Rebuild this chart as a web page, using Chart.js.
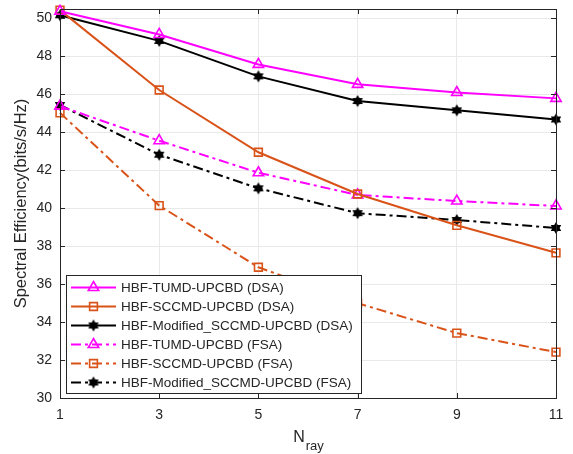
<!DOCTYPE html>
<html>
<head>
<meta charset="utf-8">
<script src="https://cdn.jsdelivr.net/npm/chart.js@4.4.1/dist/chart.umd.min.js"></script>
<style>
  body { margin: 0; background: #fff; }
  canvas { display: block; }
</style>
</head>
<body>
<canvas id="seChart" width="573" height="454"></canvas>
<script>
// Number of rays on the x axis
const nRay = [1, 3, 5, 7, 9, 11];

// Spectral efficiency per scheme (bits/s/Hz)
const tumdDSA = [50.38, 49.16, 47.58, 46.53, 46.10, 45.79];
const sccmdDSA = [50.44, 46.23, 42.95, 40.75, 39.10, 37.65];
const modSccmdDSA = [50.17, 48.82, 46.95, 45.65, 45.16, 44.68];
const tumdFSA = [45.38, 43.56, 41.87, 40.70, 40.38, 40.12];
const sccmdFSA = [45.03, 40.14, 36.89, 35.00, 33.42, 32.42];
const modSccmdFSA = [45.44, 42.82, 41.05, 39.74, 39.38, 38.96];

const seriesNames = [
    'HBF-TUMD-UPCBD (DSA)',
    'HBF-SCCMD-UPCBD (DSA)',
    'HBF-Modified_SCCMD-UPCBD (DSA)',
    'HBF-TUMD-UPCBD (FSA)',
    'HBF-SCCMD-UPCBD (FSA)',
    'HBF-Modified_SCCMD-UPCBD (FSA)'
];

// Tick values
const xTicks = [1, 3, 5, 7, 9, 11];
const yTicks = [30, 32, 34, 36, 38, 40, 42, 44, 46, 48, 50];

const FONT = '"Liberation Sans", Arial, Helvetica, sans-serif';
const TEXT_COLOR = '#262626';
const MAGENTA = '#ff00ff';
const ORANGE = '#d95319';
const BLACK = '#000000';
const DASH_DOT = [10, 4, 3, 4];

// Filled six-pointed star used as marker for the Modified_SCCMD curves
function makeHexagram(r) {
    const size = Math.ceil(r * 2 + 2);
    const c = document.createElement('canvas');
    c.width = size;
    c.height = size;
    const g = c.getContext('2d');
    const cx = size / 2, cy = size / 2;
    g.beginPath();
    for (let i = 0; i < 12; i++) {
        const rad = (i % 2 === 0) ? r : r * 0.6;
        const a = -Math.PI / 2 + i * Math.PI / 6;
        const px = cx + rad * Math.cos(a);
        const py = cy + rad * Math.sin(a);
        if (i === 0) g.moveTo(px, py); else g.lineTo(px, py);
    }
    g.closePath();
    g.fillStyle = BLACK;
    g.fill();
    return c;
}
const hexagram = makeHexagram(6);

function toPoints(values) {
    return values.map((v, i) => ({ x: nRay[i], y: v }));
}

function makeDataset(label, values, color, dash, style) {
    const isImage = style instanceof HTMLCanvasElement;
    return {
        label: label,
        data: toPoints(values),
        borderColor: color,
        backgroundColor: color,
        borderWidth: 2,
        borderDash: dash,
        pointStyle: style,
        pointRadius: style === 'triangle' ? 6 : 5.5,
        pointBorderWidth: 1.6,
        pointBorderColor: color,
        pointBackgroundColor: isImage ? color : 'rgba(0,0,0,0)',
        tension: 0,
        fill: false,
        clip: false
    };
}

const datasets = [
    makeDataset(seriesNames[0], tumdDSA, MAGENTA, [], 'triangle'),
    makeDataset(seriesNames[1], sccmdDSA, ORANGE, [], 'rect'),
    makeDataset(seriesNames[2], modSccmdDSA, BLACK, [], hexagram),
    makeDataset(seriesNames[3], tumdFSA, MAGENTA, DASH_DOT, 'triangle'),
    makeDataset(seriesNames[4], sccmdFSA, ORANGE, DASH_DOT, 'rect'),
    makeDataset(seriesNames[5], modSccmdFSA, BLACK, DASH_DOT, hexagram)
];

// Box around the axes with inward tick marks, axis titles and the legend
const matlabFrame = {
    id: 'matlabFrame',
    afterDraw(chart) {
        const ctx = chart.ctx;
        const area = chart.chartArea;
        const xs = chart.scales.x;
        const ys = chart.scales.y;
        const tick = 5;

        ctx.save();
        ctx.strokeStyle = TEXT_COLOR;
        ctx.lineWidth = 1;
        ctx.setLineDash([]);
        ctx.strokeRect(area.left + 0.5, area.top + 0.5, area.right - area.left, area.bottom - area.top);
        ctx.beginPath();
        xTicks.forEach(v => {
            const px = Math.round(xs.getPixelForValue(v)) + 0.5;
            ctx.moveTo(px, area.bottom);
            ctx.lineTo(px, area.bottom - tick);
            ctx.moveTo(px, area.top);
            ctx.lineTo(px, area.top + tick);
        });
        yTicks.forEach(v => {
            const py = Math.round(ys.getPixelForValue(v)) + 0.5;
            ctx.moveTo(area.left, py);
            ctx.lineTo(area.left + tick, py);
            ctx.moveTo(area.right, py);
            ctx.lineTo(area.right - tick, py);
        });
        ctx.stroke();

        // y axis title
        ctx.fillStyle = TEXT_COLOR;
        ctx.font = '16.5px ' + FONT;
        ctx.textAlign = 'center';
        ctx.textBaseline = 'middle';
        ctx.save();
        ctx.translate(21, (area.top + area.bottom) / 2);
        ctx.rotate(-Math.PI / 2);
        ctx.fillText('Spectral Efficiency(bits/s/Hz)', 0, 0);
        ctx.restore();

        // x axis title: N with subscript "ray"
        ctx.textAlign = 'left';
        ctx.textBaseline = 'alphabetic';
        ctx.font = '16px ' + FONT;
        const nWidth = ctx.measureText('N').width;
        ctx.font = '13px ' + FONT;
        const subWidth = ctx.measureText('ray').width;
        const startX = (area.left + area.right) / 2 - (nWidth + subWidth) / 2;
        ctx.font = '16px ' + FONT;
        ctx.fillText('N', startX, 442);
        ctx.font = '13px ' + FONT;
        ctx.fillText('ray', startX + nWidth + 1, 450);

        // legend
        const box = { left: 66, top: 275, right: 361, bottom: 393 };
        ctx.fillStyle = '#ffffff';
        ctx.fillRect(box.left, box.top, box.right - box.left, box.bottom - box.top);
        ctx.strokeStyle = TEXT_COLOR;
        ctx.lineWidth = 1;
        ctx.strokeRect(box.left + 0.5, box.top + 0.5, box.right - box.left, box.bottom - box.top);
        ctx.font = '13.5px ' + FONT;
        ctx.textBaseline = 'middle';
        chart.data.datasets.forEach((ds, i) => {
            const y = box.top + 12.5 + i * 19;
            ctx.strokeStyle = ds.borderColor;
            ctx.lineWidth = ds.borderWidth;
            ctx.setLineDash(ds.borderDash);
            ctx.beginPath();
            ctx.moveTo(71, y);
            ctx.lineTo(116, y);
            ctx.stroke();
            ctx.setLineDash([]);
            ctx.lineWidth = ds.pointBorderWidth;
            ctx.strokeStyle = ds.pointBorderColor;
            ctx.fillStyle = ds.pointBackgroundColor;
            Chart.helpers.drawPoint(ctx, {
                pointStyle: ds.pointStyle,
                radius: ds.pointRadius,
                rotation: 0,
                borderWidth: ds.pointBorderWidth
            }, 93.5, y);
            ctx.fillStyle = TEXT_COLOR;
            ctx.fillText(ds.label, 121, y + 1);
        });
        ctx.restore();
    }
};

function drawChart() {
    const ctx = document.getElementById('seChart').getContext('2d');
    new Chart(ctx, {
        type: 'line',
        data: { datasets: datasets },
        options: {
            responsive: false,
            animation: false,
            devicePixelRatio: 1,
            layout: { padding: { left: 0, top: 9, right: 17, bottom: 0 } },
            plugins: {
                legend: { display: false },
                tooltip: { enabled: false }
            },
            scales: {
                x: {
                    type: 'linear',
                    min: 1,
                    max: 11,
                    afterFit: scale => {
                        scale.height = 56;
                        scale.paddingLeft = 0;
                        scale.paddingRight = 0;
                    },
                    afterBuildTicks: scale => { scale.ticks = xTicks.map(v => ({ value: v })); },
                    grid: { color: '#e9e9e9', drawTicks: false },
                    border: { display: false },
                    ticks: {
                        padding: 9,
                        color: TEXT_COLOR,
                        font: { family: FONT, size: 14 },
                        maxRotation: 0
                    }
                },
                y: {
                    type: 'linear',
                    min: 30,
                    max: 50.5,
                    afterFit: scale => {
                        scale.width = 60;
                        scale.paddingTop = 0;
                        scale.paddingBottom = 0;
                    },
                    afterBuildTicks: scale => { scale.ticks = yTicks.map(v => ({ value: v })); },
                    grid: { color: '#e9e9e9', drawTicks: false },
                    border: { display: false },
                    ticks: {
                        padding: 8,
                        color: TEXT_COLOR,
                        font: { family: FONT, size: 14 }
                    }
                }
            }
        },
        plugins: [matlabFrame]
    });
}

window.onload = drawChart;
</script>
</body>
</html>
